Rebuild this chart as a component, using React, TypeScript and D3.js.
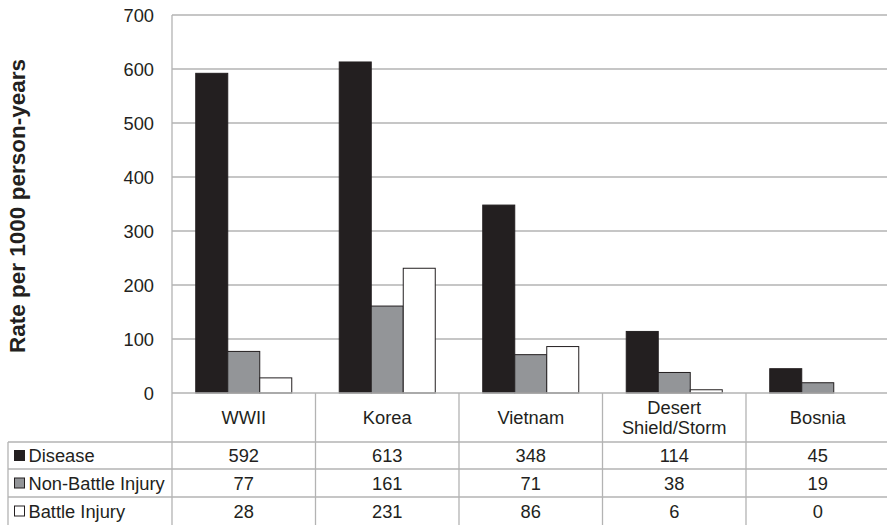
import React from "react";
import * as d3 from "d3";

const categories = ["WWII", "Korea", "Vietnam", "Desert\nShield/Storm", "Bosnia"];
const seriesNames = ["Disease", "Non-Battle Injury", "Battle Injury"];
const disease = [592, 613, 348, 114, 45];
const nonBattle = [77, 161, 71, 38, 19];
const battle = [28, 231, 86, 6, 0];
const yTicks = [0, 100, 200, 300, 400, 500, 600, 700];
const seriesValues = [disease, nonBattle, battle];
const seriesFill = ["#231f20", "#939598", "#ffffff"];

export default function App() {
  const W = 887, H = 525;
  const left = 172, right = 889.5, top = 15, bottom = 393;
  const x = d3.scaleBand<string>().domain(categories).range([left, right]).padding(0);
  const inner = d3.scaleBand<string>().domain(seriesNames).range([0, x.bandwidth()]).paddingInner(0).paddingOuter(0.742);
  const y = d3.scaleLinear().domain([0, 700]).range([bottom, top]);
  const grid = "#b3b3b3";
  const font = "Liberation Sans, Arial, sans-serif";
  const rowTops = [442, 469, 497];
  const rowH = [27, 28, 28];
  const tableLeft = 8;
  const fs = 18.3;

  return (
    <svg width={W} height={H} style={{ position: "absolute", left: 0, top: 0 }} fontFamily={font}>
      <rect width={W} height={H} fill="#fff" />
      {yTicks.map((t) => (
        <g key={t}>
          {t > 0 && <line x1={left} x2={right} y1={y(t)} y2={y(t)} stroke={grid} strokeWidth={1.3} />}
          <text x={154} y={y(t)} dy="0.36em" textAnchor="end" fontSize={fs} fill="#231f20">{t}</text>
        </g>
      ))}
      <text transform={`translate(25,206) rotate(-90)`} textAnchor="middle" fontSize={22.5} fontWeight="bold" fill="#231f20">
        Rate per 1000 person-years
      </text>
      {categories.map((c, i) => (
        <g key={c}>
          {seriesNames.map((s, j) => {
            const v = seriesValues[j][i];
            const bx = (x(c) as number) + (inner(s) as number);
            return (
              <rect key={s} x={bx} y={y(v)} width={inner.bandwidth()} height={bottom - y(v)}
                fill={seriesFill[j]} stroke="#231f20" strokeWidth={v > 0 ? 1 : 0} />
            );
          })}
        </g>
      ))}
      <line x1={left} x2={left} y1={top} y2={H} stroke={grid} strokeWidth={1.3} />
      <line x1={left} x2={right} y1={bottom} y2={bottom} stroke={grid} strokeWidth={1.5} />
      {categories.map((c, i) => i > 0 && (
        <line key={c} x1={x(c)} x2={x(c)} y1={bottom} y2={H} stroke={grid} strokeWidth={1.3} />
      ))}
      <line x1={tableLeft} x2={tableLeft} y1={rowTops[0]} y2={H} stroke={grid} strokeWidth={1.3} />
      {rowTops.map((r) => (
        <line key={r} x1={tableLeft} x2={right} y1={r} y2={r} stroke={grid} strokeWidth={1.3} />
      ))}
      {categories.map((c) => {
        const lines = c.split("\n");
        const cx = (x(c) as number) + x.bandwidth() / 2;
        const cy = (bottom + rowTops[0]) / 2;
        return (
          <text key={c} x={cx} textAnchor="middle" fontSize={fs} fill="#231f20">
            {lines.map((l, k) => (
              <tspan key={k} x={cx} y={cy + (k - (lines.length - 1) / 2) * 20} dy="0.36em">{l}</tspan>
            ))}
          </text>
        );
      })}
      {seriesNames.map((s, j) => {
        const cy = rowTops[j] + rowH[j] / 2;
        return (
          <g key={s}>
            <rect x={14.5} y={cy - 5} width={10} height={10} fill={seriesFill[j]} stroke="#231f20" strokeWidth={1} />
            <text x={28.5} y={cy} dy="0.36em" fontSize={fs} fill="#231f20">{s}</text>
            {categories.map((c, i) => (
              <text key={c} x={(x(c) as number) + x.bandwidth() / 2} y={cy} dy="0.36em" textAnchor="middle" fontSize={fs} fill="#231f20">
                {seriesValues[j][i]}
              </text>
            ))}
          </g>
        );
      })}
    </svg>
  );
}
